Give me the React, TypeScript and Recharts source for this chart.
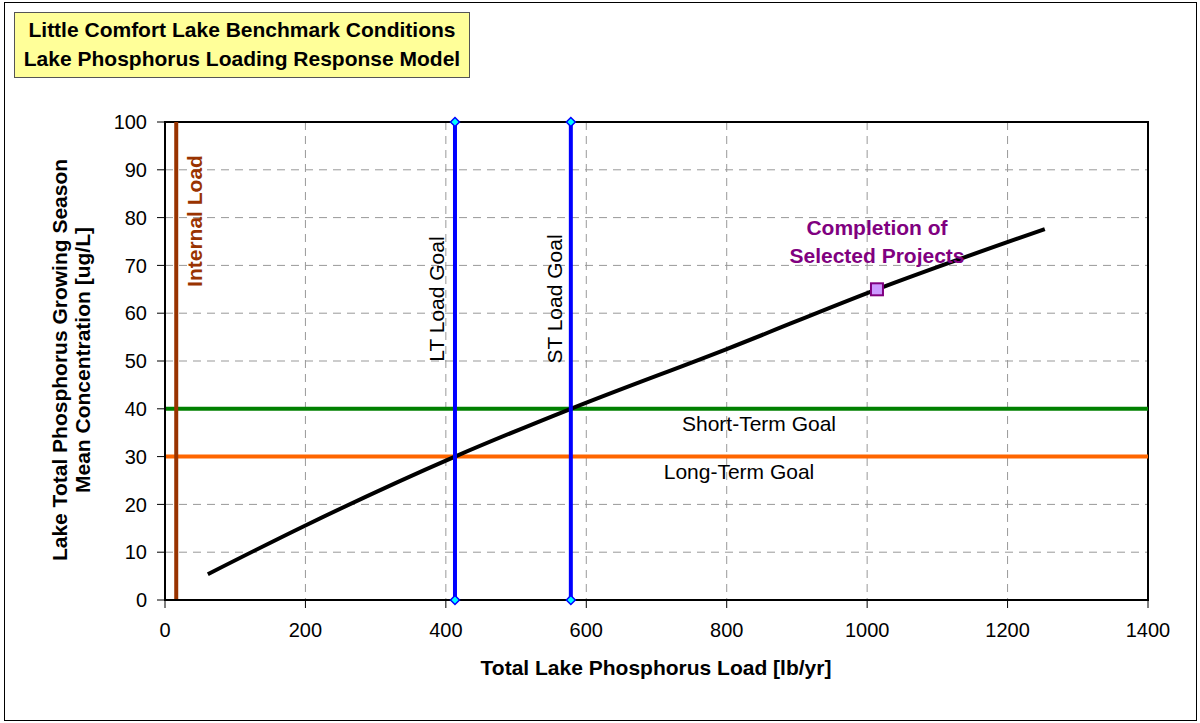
import React from "react";
import {
  CartesianGrid,
  ComposedChart,
  Line,
  ReferenceArea,
  Scatter,
  XAxis,
  YAxis,
} from "recharts";

// response curve
const loadX = [61, 200, 413, 578, 800, 1014, 1253];
const concY = [5.4, 15.6, 30, 40, 52.5, 65, 77.6];

const internalLoad = 16;
const ltLoadGoal = 413;
const stLoadGoal = 578;
const shortTermGoal = 40;
const longTermGoal = 30;
const projectPoint = { x: 1014, y: 65 };

const xTicks = [0, 200, 400, 600, 800, 1000, 1200, 1400];
const yTicks = [0, 10, 20, 30, 40, 50, 60, 70, 80, 90, 100];

const curveData = loadX.map((x, i) => ({ x, y: concY[i] }));
const vLine = (x: number) => [
  { x, y: 0 },
  { x, y: 100 },
];
const hLine = (y: number) => [
  { x: 0, y },
  { x: 1400, y },
];

const font = '"Liberation Sans", Arial, sans-serif';

const Diamond = (props: any) => {
  const { cx, cy } = props;
  if (cx == null || cy == null) return null;
  const r = 4.5;
  return (
    <path
      d={`M${cx},${cy - r}L${cx + r},${cy}L${cx},${cy + r}L${cx - r},${cy}Z`}
      fill="#00ffff"
      stroke="#0000ff"
      strokeWidth={1.5}
    />
  );
};

const Square = (props: any) => {
  const { cx, cy } = props;
  if (cx == null || cy == null) return null;
  return (
    <rect
      x={cx - 6}
      y={cy - 6}
      width={12}
      height={12}
      fill="#cc99ff"
      stroke="#800080"
      strokeWidth={2}
    />
  );
};

const abs = (style: React.CSSProperties): React.CSSProperties => ({
  position: "absolute",
  fontFamily: font,
  whiteSpace: "nowrap",
  ...style,
});

export default function App() {
  return (
    <div
      style={{
        position: "absolute",
        left: 0,
        top: 0,
        width: 1200,
        height: 723,
        background: "#fff",
        fontFamily: font,
      }}
    >
      <div
        style={{
          position: "absolute",
          left: 4,
          top: 2,
          width: 1191,
          height: 717,
          border: "1px solid #000",
        }}
      />
      <ComposedChart
        width={1200}
        height={723}
        margin={{ top: 122, right: 52, bottom: 93, left: 105 }}
      >
        <CartesianGrid stroke="#999" strokeDasharray="8 6" />
        <XAxis
          type="number"
          dataKey="x"
          domain={[0, 1400]}
          ticks={xTicks}
          height={30}
          tick={{ fill: "#000", fontSize: 20, fontFamily: font, dy: 13 }}
          tickLine={{ stroke: "#000" }}
          tickSize={8}
          axisLine={{ stroke: "#000", strokeWidth: 2 }}
        />
        <YAxis
          type="number"
          dataKey="y"
          domain={[0, 100]}
          ticks={yTicks}
          width={60}
          tick={{ fill: "#000", fontSize: 20, fontFamily: font, dx: -8 }}
          tickLine={{ stroke: "#000" }}
          tickSize={8}
          axisLine={{ stroke: "#000", strokeWidth: 2 }}
        />
        <ReferenceArea
          x1={0}
          x2={1400}
          y1={0}
          y2={100}
          fill="none"
          stroke="#000"
          strokeWidth={2}
          ifOverflow="visible"
        />
        <Line
          data={hLine(shortTermGoal)}
          dataKey="y"
          stroke="#008000"
          strokeWidth={4}
          dot={false}
          isAnimationActive={false}
        />
        <Line
          data={hLine(longTermGoal)}
          dataKey="y"
          stroke="#ff6600"
          strokeWidth={4}
          dot={false}
          isAnimationActive={false}
        />
        <Line
          data={vLine(internalLoad)}
          dataKey="y"
          stroke="#993300"
          strokeWidth={4}
          dot={false}
          isAnimationActive={false}
        />
        <Line
          data={curveData}
          dataKey="y"
          type="monotone"
          stroke="#000"
          strokeWidth={4}
          dot={false}
          isAnimationActive={false}
        />
        <Line
          data={vLine(ltLoadGoal)}
          dataKey="y"
          stroke="#0000ff"
          strokeWidth={4}
          dot={false}
          isAnimationActive={false}
        />
        <Line
          data={vLine(stLoadGoal)}
          dataKey="y"
          stroke="#0000ff"
          strokeWidth={4}
          dot={false}
          isAnimationActive={false}
        />
        <Scatter
          data={[...vLine(ltLoadGoal), ...vLine(stLoadGoal)]}
          dataKey="y"
          shape={<Diamond />}
          isAnimationActive={false}
        />
        <Scatter
          data={[projectPoint]}
          dataKey="y"
          shape={<Square />}
          isAnimationActive={false}
        />
      </ComposedChart>

      <div
        style={abs({
          left: 14,
          top: 12,
          width: 454,
          height: 62,
          background: "#ffff99",
          border: "1px solid #555",
          fontWeight: "bold",
          fontSize: 21,
          lineHeight: "29px",
          textAlign: "center",
          paddingTop: 2,
        })}
      >
        Little Comfort Lake Benchmark Conditions
        <br />
        Lake Phosphorus Loading Response Model
      </div>

      <div
        style={abs({
          left: 71,
          top: 360,
          transform: "translate(-50%, -50%) rotate(-90deg)",
          fontWeight: "bold",
          fontSize: 21,
          lineHeight: "23px",
          textAlign: "center",
        })}
      >
        Lake Total Phosphorus Growing Season
        <br />
        Mean Concentration [ug/L]
      </div>

      <div
        style={abs({
          left: 656,
          top: 668,
          transform: "translate(-50%, -50%)",
          fontWeight: "bold",
          fontSize: 21,
        })}
      >
        Total Lake Phosphorus Load [lb/yr]
      </div>

      <div
        style={abs({
          left: 195,
          top: 221,
          transform: "translate(-50%, -50%) rotate(-90deg)",
          fontWeight: "bold",
          fontSize: 21,
          color: "#993300",
        })}
      >
        Internal Load
      </div>
      <div
        style={abs({
          left: 437,
          top: 299,
          transform: "translate(-50%, -50%) rotate(-90deg)",
          fontSize: 21,
        })}
      >
        LT Load Goal
      </div>
      <div
        style={abs({
          left: 555,
          top: 299,
          transform: "translate(-50%, -50%) rotate(-90deg)",
          fontSize: 21,
        })}
      >
        ST Load Goal
      </div>
      <div
        style={abs({
          left: 877,
          top: 242,
          transform: "translate(-50%, -50%)",
          fontWeight: "bold",
          fontSize: 21,
          lineHeight: "28px",
          color: "#800080",
          textAlign: "center",
        })}
      >
        Completion of
        <br />
        Selected Projects
      </div>
      <div
        style={abs({
          left: 759,
          top: 424,
          transform: "translate(-50%, -50%)",
          fontSize: 21,
        })}
      >
        Short-Term Goal
      </div>
      <div
        style={abs({
          left: 739,
          top: 472,
          transform: "translate(-50%, -50%)",
          fontSize: 21,
        })}
      >
        Long-Term Goal
      </div>
    </div>
  );
}
